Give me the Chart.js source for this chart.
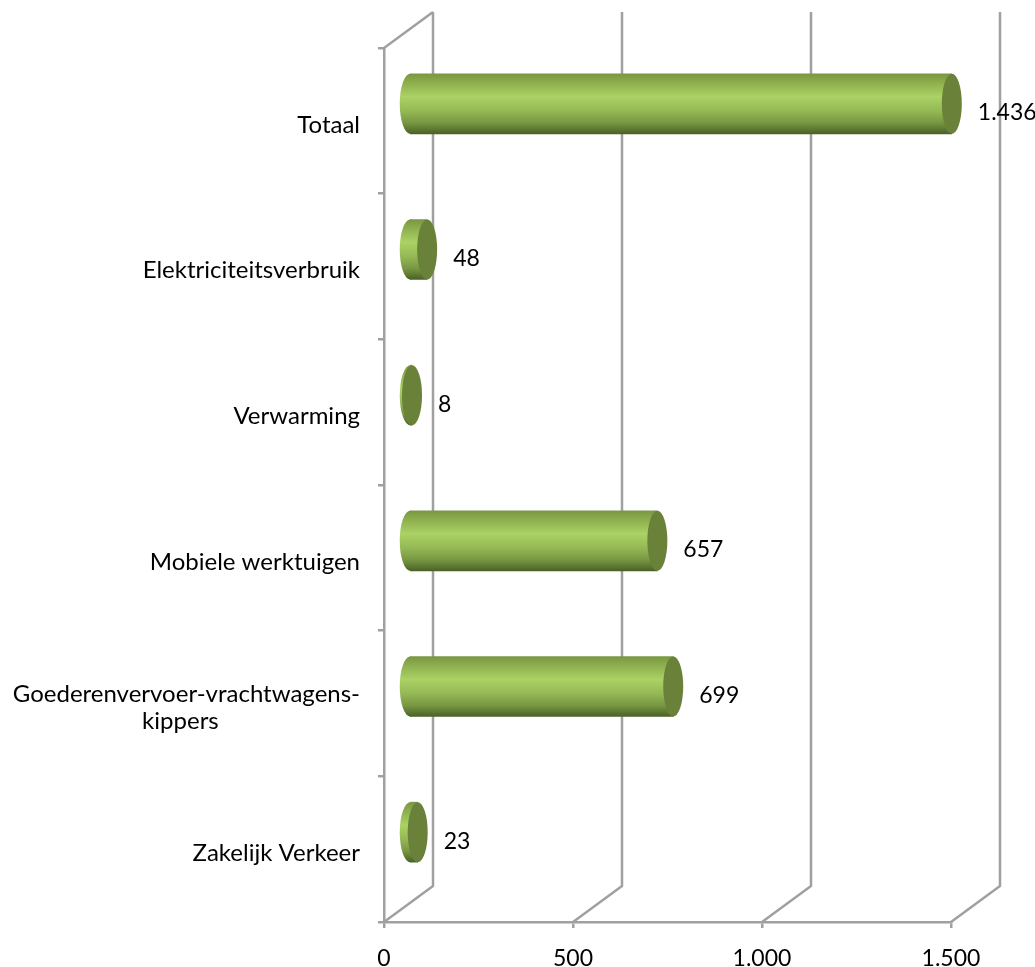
<!DOCTYPE html>
<html><head><meta charset="utf-8">
<script src="https://cdn.jsdelivr.net/npm/chart.js@4"></script>
<style>html,body{margin:0;padding:0;background:#fff}canvas{display:block}</style>
</head><body><canvas id="c" width="1035" height="967" style="width:1035px;height:967px"></canvas>
<script>
const categories = ['Totaal','Elektriciteitsverbruik','Verwarming','Mobiele werktuigen',
  ['Goederenvervoer-vrachtwagens-','kippers'+'\u00A0'.repeat(23)],'Zakelijk Verkeer'];
const values = [1436,48,8,657,699,23];
const tickValues = [0,500,1000,1500];

const FONT = 'Lato, Carlito, sans-serif';
const GRID = '#a0a0a0';
const DX = 25, DY = -17;       // bars float inside the 3D box
const WALL_DX = 49, WALL_DY = -36;
const CAP_RX = 10;
const fmt = v => String(v).replace(/\B(?=(\d{3})+$)/g,'.');

function bodyGradient(c, mid){
  const g = c.createLinearGradient(0, mid-30, 0, mid+30);
  g.addColorStop(0,'#7a9742');
  g.addColorStop(0.12,'#8aaa4b');
  g.addColorStop(0.38,'#aad264');
  g.addColorStop(0.62,'#95b855');
  g.addColorStop(0.82,'#779641');
  g.addColorStop(1,'#4a6227');
  return g;
}

const box3d = {
  id:'box3d',
  beforeDatasetsDraw(chart){
    const c = chart.ctx, x = chart.scales.x, a = chart.chartArea;
    c.save();
    c.strokeStyle = GRID; c.lineWidth = 2.5; c.lineJoin='round';
    tickValues.forEach(v=>{
      const p = x.getPixelForValue(v);
      c.beginPath();
      c.moveTo(p,a.bottom);
      c.lineTo(p+WALL_DX,a.bottom+WALL_DY);
      c.lineTo(p+WALL_DX,a.top+WALL_DY);
      c.stroke();
    });
    c.beginPath();
    c.moveTo(a.left,a.top);
    c.lineTo(a.left+WALL_DX,a.top+WALL_DY);
    c.stroke();
    c.restore();
  },
  beforeDatasetDraw(chart){
    const c = chart.ctx;
    c.save();
    c.translate(DX,DY);
    chart.getDatasetMeta(0).data.forEach(b=>{
      c.fillStyle = bodyGradient(c,b.y);
      c.beginPath();
      c.ellipse(b.base,b.y,CAP_RX+0.5,30,0,0,Math.PI*2);
      c.fill();
    });
  },
  afterDatasetDraw(chart){
    const c = chart.ctx;
    chart.getDatasetMeta(0).data.forEach(b=>{
      c.fillStyle = '#6a813a';
      c.beginPath();
      c.ellipse(b.x,b.y,CAP_RX,30,0,0,Math.PI*2);
      c.fill();
    });
    c.restore();
  },
  afterDatasetsDraw(chart){
    const c = chart.ctx;
    c.save();
    c.fillStyle='#000';
    c.font='23px '+FONT;
    c.textAlign='left'; c.textBaseline='middle';
    chart.getDatasetMeta(0).data.forEach((b,i)=>{
      c.fillText(fmt(values[i]), b.x+DX+26, b.y+DY+9);
    });
    c.restore();
  }
};

new Chart(document.getElementById('c'),{
  type:'bar',
  data:{labels:categories,datasets:[{
    data:values,
    barThickness:60,
    borderWidth:0,
    clip:false,
    backgroundColor(ctx){
      const y = ctx.type==='data' ? ctx.chart.scales.y.getPixelForValue(ctx.dataIndex) : NaN;
      return Number.isFinite(y) ? bodyGradient(ctx.chart.ctx, y) : '#95b855';
    }
  }]},
  plugins:[box3d],
  options:{
    indexAxis:'y',
    responsive:false,
    animation:false,
    devicePixelRatio:1,
    layout:{padding:{left:0,right:84,top:48,bottom:0}},
    plugins:{legend:{display:false},title:{display:false},tooltip:{enabled:false}},
    scales:{
      x:{
        min:0,max:1500,
        afterFit(s){s.height=45;},
        afterBuildTicks(s){s.ticks=tickValues.map(value=>({value}));},
        border:{display:true,color:GRID,width:2.5},
        grid:{drawOnChartArea:false,drawTicks:true,tickLength:6,color:GRID,lineWidth:2.5},
        ticks:{color:'#000',font:{family:FONT,size:23},padding:17,maxRotation:0,callback:v=>fmt(v)}
      },
      y:{
        afterFit(s){s.width=384;},
        border:{display:true,color:GRID,width:2.5},
        grid:{drawOnChartArea:false,drawTicks:true,tickLength:6,color:GRID,lineWidth:2.5},
        ticks:{color:'#000',font:{family:FONT,size:24,lineHeight:1.13},padding:18,labelOffset:4,autoSkip:false}
      }
    }
  }
});
</script></body></html>
